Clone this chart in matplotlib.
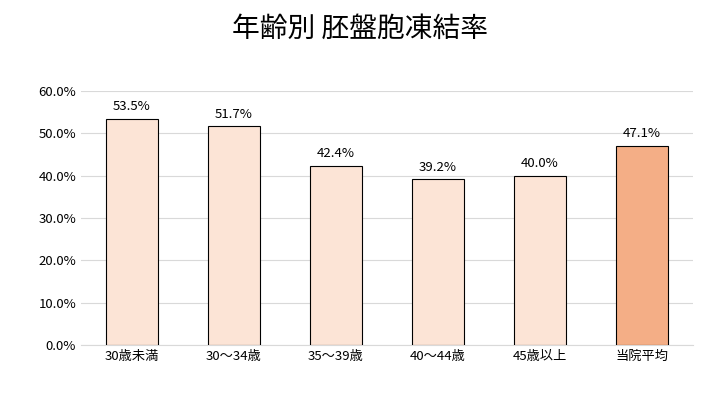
import matplotlib
matplotlib.use("Agg")
import matplotlib.pyplot as plt

plt.rcParams["font.family"] = ["Noto Sans CJK JP", "DejaVu Sans"]

categories = ["30歳未満", "30～34歳", "35～39歳", "40～44歳", "45歳以上", "当院平均"]
rates = [53.5, 51.7, 42.4, 39.2, 40.0, 47.1]
colors = ["#FCE4D6"] * 5 + ["#F4AE86"]

fig = plt.figure(figsize=(7.2, 4.05), dpi=100)
ax = fig.add_axes([0.1125, 0.148, 0.85, 0.627])

x = range(len(categories))
ax.bar(x, rates, width=0.51, color=colors, edgecolor="black", linewidth=0.8, zorder=3)
for i, v in zip(x, rates):
    ax.text(i, v + 1.3, f"{v:.1f}%", ha="center", va="bottom", fontsize=9.5)

ax.set_ylim(0, 60)
ax.set_xlim(-0.5, len(categories) - 0.5)
ax.set_yticks(range(0, 61, 10))
ax.set_yticklabels([f"{t:.1f}%" for t in range(0, 61, 10)], fontsize=9.5)
ax.set_xticks(list(x))
ax.set_xticklabels(categories, fontsize=9.5)
ax.grid(axis="y", color="#D9D9D9", linewidth=0.8, zorder=0)
ax.tick_params(length=0)
for s in ["top", "right", "left"]:
    ax.spines[s].set_visible(False)
ax.spines["bottom"].set_color("#D9D9D9")

fig.text(0.5, 0.93, "年齢別 胚盤胞凍結率", ha="center", va="center", fontsize=20)

fig.savefig("out.png", dpi=100)
